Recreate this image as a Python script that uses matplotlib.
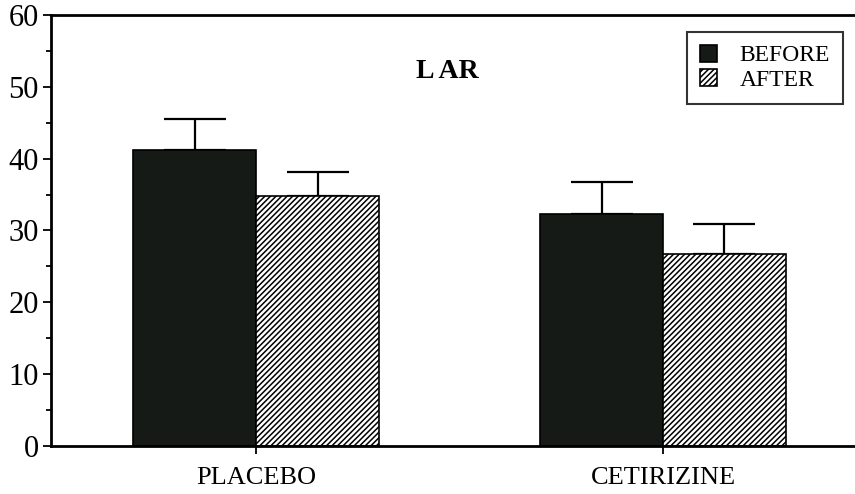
"""LAR bar chart: before/after values for placebo and cetirizine."""

import numpy as np
import matplotlib
matplotlib.use("Agg", force=True)
import matplotlib.pyplot as plt
from matplotlib.ticker import MultipleLocator


groups = ["PLACEBO", "CETIRIZINE"]
before = [41.2, 32.3]
after = [34.8, 26.7]
before_err = [4.3, 4.5]
after_err = [3.3, 4.2]
yticks = [0, 10, 20, 30, 40, 50, 60]

plt.rcParams["font.family"] = ["Liberation Serif", "DejaVu Serif"]
plt.rcParams["hatch.linewidth"] = 1.1

fig = plt.figure(figsize=(8.55, 4.94), dpi=100)
ax = fig.add_axes([0.0597, 0.0972, 0.9403, 0.8725])

x = np.arange(len(groups))
width = 0.302

ax.bar(x - width / 2, before, width, color="#151a17", edgecolor="black",
       linewidth=1.2, label="BEFORE", zorder=2)
ax.bar(x + width / 2, after, width, color="white", edgecolor="black",
       hatch="//////", linewidth=1.2, label="AFTER", zorder=2)

err_kw = dict(fmt="none", ecolor="black", elinewidth=1.6, capsize=22,
              capthick=1.6, zorder=1)
ax.errorbar(x - width / 2, before, yerr=[np.zeros(len(before)), before_err], **err_kw)
ax.errorbar(x + width / 2, after, yerr=[np.zeros(len(after)), after_err], **err_kw)

ax.set_xlim(-0.504, 1.472)
ax.set_ylim(0, 60)
ax.set_yticks(yticks)
ax.yaxis.set_minor_locator(MultipleLocator(5))
ax.set_xticks(x)
ax.set_xticklabels(groups, fontsize=19)

ax.tick_params(axis="y", which="major", direction="out", length=6, width=1.3,
               labelsize=22, pad=3)
ax.tick_params(axis="y", which="minor", direction="out", length=3.5, width=1.3)
ax.tick_params(axis="x", direction="out", length=6, width=1.3, pad=9)

ax.spines["right"].set_visible(False)
for side in ("left", "top", "bottom"):
    ax.spines[side].set_linewidth(2.0)

ax.text(0.469, 52.1, "L AR", fontsize=20, fontweight="bold",
        ha="center", va="center")

leg = ax.legend(loc="upper right", bbox_to_anchor=(0.985, 0.961), fontsize=17,
                frameon=True, fancybox=False, edgecolor="black",
                handlelength=0.72, handleheight=0.72, handletextpad=0.95,
                labelspacing=0.12, borderpad=0.55, borderaxespad=0.0)
leg.get_frame().set_linewidth(1.5)

fig.savefig("out.png", dpi=100)
plt.close(fig)
